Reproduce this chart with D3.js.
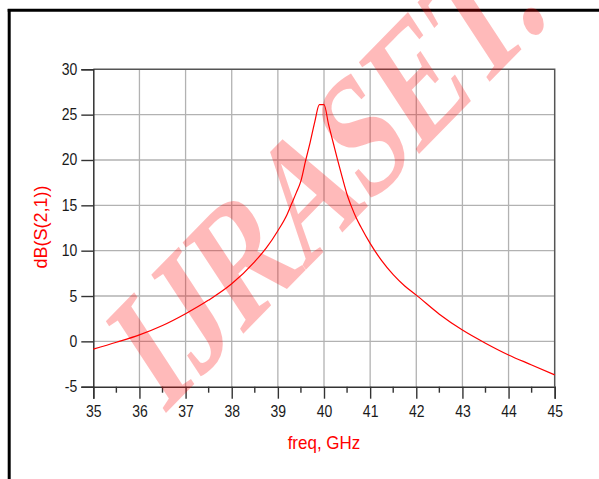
<!DOCTYPE html>
<html>
<head>
<meta charset="utf-8">
<script src="https://cdn.jsdelivr.net/npm/d3@7"></script>
<style>
  html, body { margin: 0; padding: 0; background: #fff; }
  svg { display: block; }
</style>
</head>
<body>
<svg id="chart" width="599" height="479"></svg>
<script>
// ---- data ----
const freqGHz = [35, 35.5, 36, 36.5, 37, 37.5, 38, 38.5, 38.75, 39, 39.2, 39.3, 39.4, 39.5, 39.6, 39.7, 39.8, 39.9, 40.0, 40.1, 40.2, 40.3, 40.4, 40.5, 40.6, 40.7, 40.8, 41, 41.25, 41.5, 41.75, 42, 42.5, 43, 43.5, 44, 44.5, 45];
const s21dB   = [-0.86, -0.1, 0.72, 1.75, 3.05, 4.55, 6.35, 8.8, 10.3, 12.2, 14.0, 15.2, 16.4, 17.7, 19.9, 21.95, 24.2, 26.1, 26.1, 23.9, 21.9, 19.9, 18.0, 16.2, 14.8, 13.6, 12.6, 10.8, 8.9, 7.35, 6.1, 5.1, 3.0, 1.25, -0.2, -1.5, -2.6, -3.7];
const xTickValues = [35, 36, 37, 38, 39, 40, 41, 42, 43, 44, 45];
const xMinorTicks = [35.5, 36.5, 37.5, 38.5, 39.5, 40.5, 41.5, 42.5, 43.5, 44.5];
const yTickValues = [-5, 0, 5, 10, 15, 20, 25, 30];
const xLabel = "freq, GHz";
const yLabel = "dB(S(2,1))";
const watermark = "IJRASET.";

const svg = d3.select("#chart");
const L = 93.3, R = 554.7, T = 69.3, B = 386.7;
const x = d3.scaleLinear().domain([35, 45]).range([L, R]);
const y = d3.scaleLinear().domain([-5, 30]).range([B, T]);
const fmt = d => String(d); // hyphen-minus like the reference

// outer frame (partial, like the reference)
svg.append("line").attr("x1", 9.2).attr("x2", 9.2).attr("y1", 9).attr("y2", 479)
  .attr("stroke", "#000").attr("stroke-width", 3);
svg.append("line").attr("x1", 7.7).attr("x2", 599).attr("y1", 10.3).attr("y2", 10.3)
  .attr("stroke", "#000").attr("stroke-width", 3);

// grid
const grid = svg.append("g");
grid.selectAll(".vg").data(xTickValues.slice(1, -1)).join("line")
  .attr("x1", d => x(d)).attr("x2", d => x(d)).attr("y1", T).attr("y2", B)
  .attr("stroke", "#b2b2b2").attr("stroke-width", 1.3);
grid.selectAll(".hg").data(yTickValues.slice(1, -1)).join("line")
  .attr("x1", L).attr("x2", R).attr("y1", d => y(d)).attr("y2", d => y(d))
  .attr("stroke", "#b2b2b2").attr("stroke-width", 1.3);

// plot border top/right
svg.append("path").attr("d", `M${L},${T}H${R}V${B}`).attr("fill", "none")
  .attr("stroke", "#555").attr("stroke-width", 1.5);

// axes via d3
const xAxis = d3.axisBottom(x).tickValues(xTickValues).tickSize(12).tickFormat(fmt);
const yAxis = d3.axisLeft(y).tickValues(yTickValues).tickSize(12).tickFormat(fmt);

const gx = svg.append("g").attr("transform", `translate(0,${B})`).call(xAxis);
const gy = svg.append("g").attr("transform", `translate(${L},0)`).call(yAxis);
[gx, gy].forEach(g => {
  g.select(".domain").attr("stroke", "#333").attr("stroke-width", 1.5);
  g.selectAll(".tick line").attr("stroke", "#333").attr("stroke-width", 1.4);
  g.selectAll(".tick text").attr("fill", "#1a1a1a")
    .style("font-family", "'Liberation Sans', Arial, sans-serif").style("font-size", "14px");
});
gx.selectAll(".tick text").attr("y", 0).attr("dy", null)
  .attr("transform", "translate(0,30) scale(1,1.15)");
gy.selectAll(".tick text").attr("x", 0).attr("dy", null)
  .attr("transform", "translate(-16,5) scale(1,1.15)");

// minor x ticks
gx.selectAll(".minor").data(xMinorTicks).join("line")
  .attr("x1", d => x(d)).attr("x2", d => x(d)).attr("y1", 0).attr("y2", 6)
  .attr("stroke", "#333").attr("stroke-width", 1.4);

// axis labels
svg.append("text").text(xLabel)
  .attr("transform", `translate(${(L + R) / 2},448.5) scale(1,1.08)`)
  .attr("text-anchor", "middle").attr("fill", "#ff0000")
  .style("font-family", "'Liberation Sans', Arial, sans-serif").style("font-size", "17px");
svg.append("text").text(yLabel)
  .attr("transform", `translate(46.5,${(T + B) / 2 - 1}) rotate(-90)`)
  .attr("text-anchor", "middle").attr("fill", "#ff0000")
  .style("font-family", "'Liberation Sans', Arial, sans-serif").style("font-size", "18px");

// curve
const line = d3.line().x((d, i) => x(freqGHz[i])).y(d => y(d)).curve(d3.curveMonotoneX);
svg.append("path").datum(s21dB).attr("d", line)
  .attr("fill", "none").attr("stroke", "#ff0000").attr("stroke-width", 1.2);

// watermark overlay (tall, condensed, vertically stretched as in the reference)
svg.append("text").text(watermark)
  .attr("transform", "translate(163,416) scale(1,1.25) rotate(-39.3) scale(0.785,1)")
  .attr("fill", "#ff0000").attr("fill-opacity", 0.27)
  .style("font-family", "'Liberation Serif', 'Times New Roman', serif")
  .style("font-weight", "bold").style("font-size", "145px");
</script>
</body>
</html>
